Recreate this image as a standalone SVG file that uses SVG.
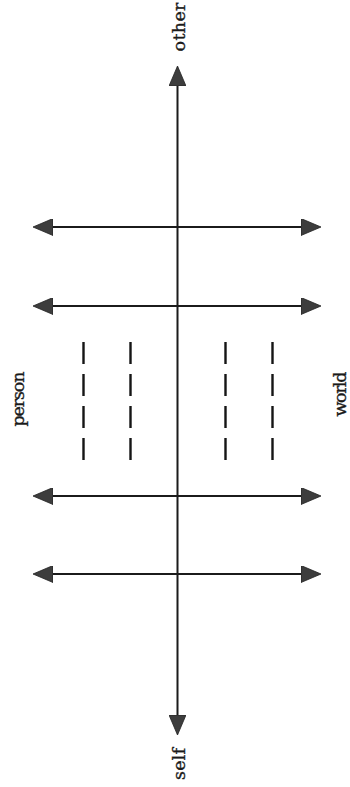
<svg xmlns="http://www.w3.org/2000/svg" width="350" height="787" viewBox="0 0 350 787">
  <defs>
    <style>
      .axis { stroke: #1b1b1b; stroke-width: 2; fill: none; }
      .cross { stroke: #1b1b1b; stroke-width: 1.8; fill: none; marker-start: url(#head); marker-end: url(#head); }
      .dash { stroke: #151515; stroke-width: 2.4; stroke-dasharray: 22 10; fill: none; }
      .label { font-family: "DejaVu Serif", "Liberation Serif", serif; font-size: 17.5px; fill: #1a1a1a; stroke: #1a1a1a; stroke-width: 0.35; text-anchor: middle; }
    </style>
    <!-- filled triangular arrowhead; base sits on the line end, tip points outward -->
    <marker id="head" viewBox="0 0 20 17" markerWidth="20" markerHeight="17" refX="0" refY="8.5" markerUnits="userSpaceOnUse" orient="auto-start-reverse">
      <path d="M0,0 L20,8.5 L0,17 Z" fill="#3d3d3d" stroke="#222" stroke-width="0.8"/>
    </marker>
  </defs>

  <rect width="350" height="787" fill="#ffffff"/>

  <!-- connectors: central self/other axis and the four crossing double arrows -->
  <g id="connectors">
    <path class="axis" d="M177.5,86 L177.5,715" marker-start="url(#head)" marker-end="url(#head)"/>
    <path class="cross" d="M53,227 L301,227"/>
    <path class="cross" d="M53,306 L301,306"/>
    <path class="cross" d="M53,496 L301,496"/>
    <path class="cross" d="M53,574 L301,574"/>
  </g>

  <!-- dashed columns between the inner crossing lines -->
  <g id="dashes">
    <line class="dash" x1="83.5" y1="342" x2="83.5" y2="460"/>
    <line class="dash" x1="130.5" y1="342" x2="130.5" y2="460"/>
    <line class="dash" x1="225.5" y1="342" x2="225.5" y2="460"/>
    <line class="dash" x1="272.5" y1="342" x2="272.5" y2="460"/>
  </g>

  <!-- rotated labels, reading bottom to top -->
  <g id="other">
    <text class="label" transform="translate(185,27) rotate(-90)" textLength="49">other</text>
  </g>
  <g id="self">
    <text class="label" transform="translate(185,764) rotate(-90)" textLength="32">self</text>
  </g>
  <g id="person">
    <text class="label" transform="translate(24,399) rotate(-90)" textLength="55">person</text>
  </g>
  <g id="world">
    <text class="label" transform="translate(346,394) rotate(-90)" textLength="45">world</text>
  </g>
</svg>
